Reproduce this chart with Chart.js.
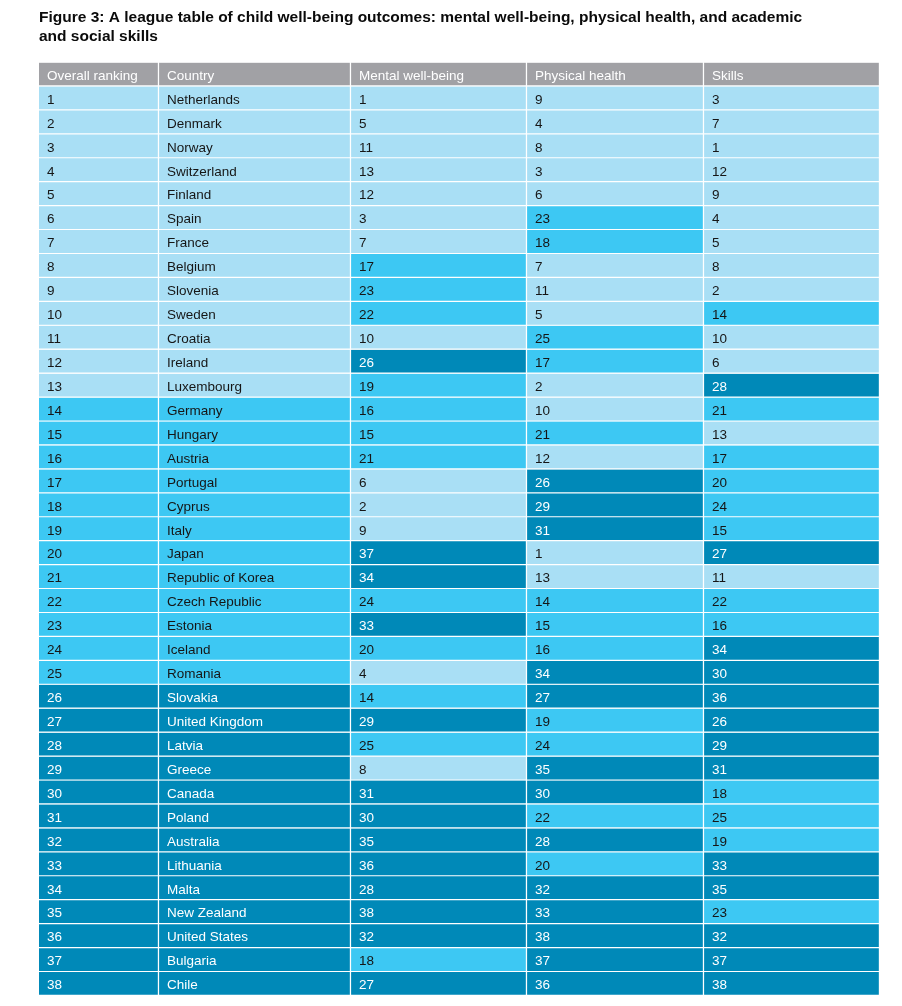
<!DOCTYPE html>
<html>
<head>
<meta charset="utf-8">
<title>Child well-being league table</title>
<script src="https://cdn.jsdelivr.net/npm/chart.js@4.4.0/dist/chart.umd.min.js"></script>
<style>
    body { margin: 0; background: #ffffff; }
    #wrap { position: relative; width: 902px; height: 1006px; }
</style>
</head>
<body>
<div id="wrap"><canvas id="leagueChart"></canvas></div>
<script>
// Table data (ranks)
const headers = ['Overall ranking', 'Country', 'Mental well-being', 'Physical health', 'Skills'];
const overallRank = [1, 2, 3, 4, 5, 6, 7, 8, 9, 10, 11, 12, 13, 14, 15, 16, 17, 18, 19,
    20, 21, 22, 23, 24, 25, 26, 27, 28, 29, 30, 31, 32, 33, 34, 35, 36, 37, 38];
const countries = ['Netherlands', 'Denmark', 'Norway', 'Switzerland', 'Finland', 'Spain',
    'France', 'Belgium', 'Slovenia', 'Sweden', 'Croatia', 'Ireland', 'Luxembourg', 'Germany',
    'Hungary', 'Austria', 'Portugal', 'Cyprus', 'Italy', 'Japan', 'Republic of Korea',
    'Czech Republic', 'Estonia', 'Iceland', 'Romania', 'Slovakia', 'United Kingdom', 'Latvia',
    'Greece', 'Canada', 'Poland', 'Australia', 'Lithuania', 'Malta', 'New Zealand',
    'United States', 'Bulgaria', 'Chile'];
const mentalWellBeing = [1, 5, 11, 13, 12, 3, 7, 17, 23, 22, 10, 26, 19, 16, 15, 21, 6, 2, 9,
    37, 34, 24, 33, 20, 4, 14, 29, 25, 8, 31, 30, 35, 36, 28, 38, 32, 18, 27];
const physicalHealth = [9, 4, 8, 3, 6, 23, 18, 7, 11, 5, 25, 17, 2, 10, 21, 12, 26, 29, 31,
    1, 13, 14, 15, 16, 34, 27, 19, 24, 35, 30, 22, 28, 20, 32, 33, 38, 37, 36];
const skills = [3, 7, 1, 12, 9, 4, 5, 8, 2, 14, 10, 6, 28, 21, 13, 17, 20, 24, 15, 27, 11, 22,
    16, 34, 30, 36, 26, 29, 31, 18, 25, 19, 33, 35, 23, 32, 37, 38];

// Layout / style settings
const colWidths = [120, 192, 176, 177, 176];
const colors = { header: '#a1a1a5', top: '#a9dff5', middle: '#3dc8f3', bottom: '#0089b8' };
const fontFamily = '"Liberation Sans", Arial, Helvetica, sans-serif';

function bandColor(rank) {
    if (rank <= 13) return colors.top;
    if (rank <= 25) return colors.middle;
    return colors.bottom;
}

// One column of cells: header text + 38 values, and the rank that decides its colour
const columns = [
    { texts: overallRank, ranks: overallRank },
    { texts: countries, ranks: overallRank },
    { texts: mentalWellBeing, ranks: mentalWellBeing },
    { texts: physicalHealth, ranks: physicalHealth },
    { texts: skills, ranks: skills }
];

const rowLabels = ['header'].concat(countries);

const datasets = columns.map((col, i) => ({
    label: headers[i],
    data: rowLabels.map(() => colWidths[i]),
    cellTexts: [headers[i]].concat(col.texts.map(String)),
    cellRanks: [0].concat(col.ranks),
    backgroundColor: [colors.header].concat(col.ranks.map(bandColor)),
    borderColor: '#ffffff',
    borderWidth: { top: 0, left: 0, right: 1.5, bottom: 1.5 },
    borderSkipped: false,
    barPercentage: 1,
    categoryPercentage: 1
}));

// Draw the cell texts on top of the bars
const cellTextPlugin = {
    id: 'cellText',
    afterDatasetsDraw(chart) {
        const ctx = chart.ctx;
        ctx.save();
        ctx.textBaseline = 'middle';
        ctx.textAlign = 'left';
        chart.data.datasets.forEach((ds, i) => {
            const meta = chart.getDatasetMeta(i);
            meta.data.forEach((bar, j) => {
                const rank = ds.cellRanks[j];
                ctx.font = '13.5px ' + fontFamily;
                ctx.fillStyle = (j === 0 || rank > 25) ? '#ffffff' : '#161616';
                const left = Math.min(bar.x, bar.base);
                ctx.fillText(ds.cellTexts[j], left + 8, bar.y + 1.5);
            });
        });
        ctx.restore();
    }
};

new Chart(document.getElementById('leagueChart'), {
    type: 'bar',
    data: { labels: rowLabels, datasets: datasets },
    options: {
        indexAxis: 'y',
        responsive: true,
        maintainAspectRatio: false,
        animation: false,
        events: [],
        layout: { padding: { left: 39, right: 22, top: 9, bottom: 10 } },
        scales: {
            x: {
                stacked: true,
                display: false,
                min: 0,
                max: colWidths.reduce((a, b) => a + b, 0)
            },
            y: { stacked: true, display: false }
        },
        plugins: {
            legend: { display: false },
            tooltip: { enabled: false },
            title: {
                display: true,
                align: 'start',
                text: ['Figure 3: A league table of child well-being outcomes: mental well-being, physical health, and academic',
                    'and social skills'],
                color: '#0a0a0a',
                font: { family: fontFamily, size: 15.5, weight: 'bold', lineHeight: 1.18 },
                padding: { top: 0, bottom: 17 }
            }
        }
    },
    plugins: [cellTextPlugin]
});
</script>
</body>
</html>
